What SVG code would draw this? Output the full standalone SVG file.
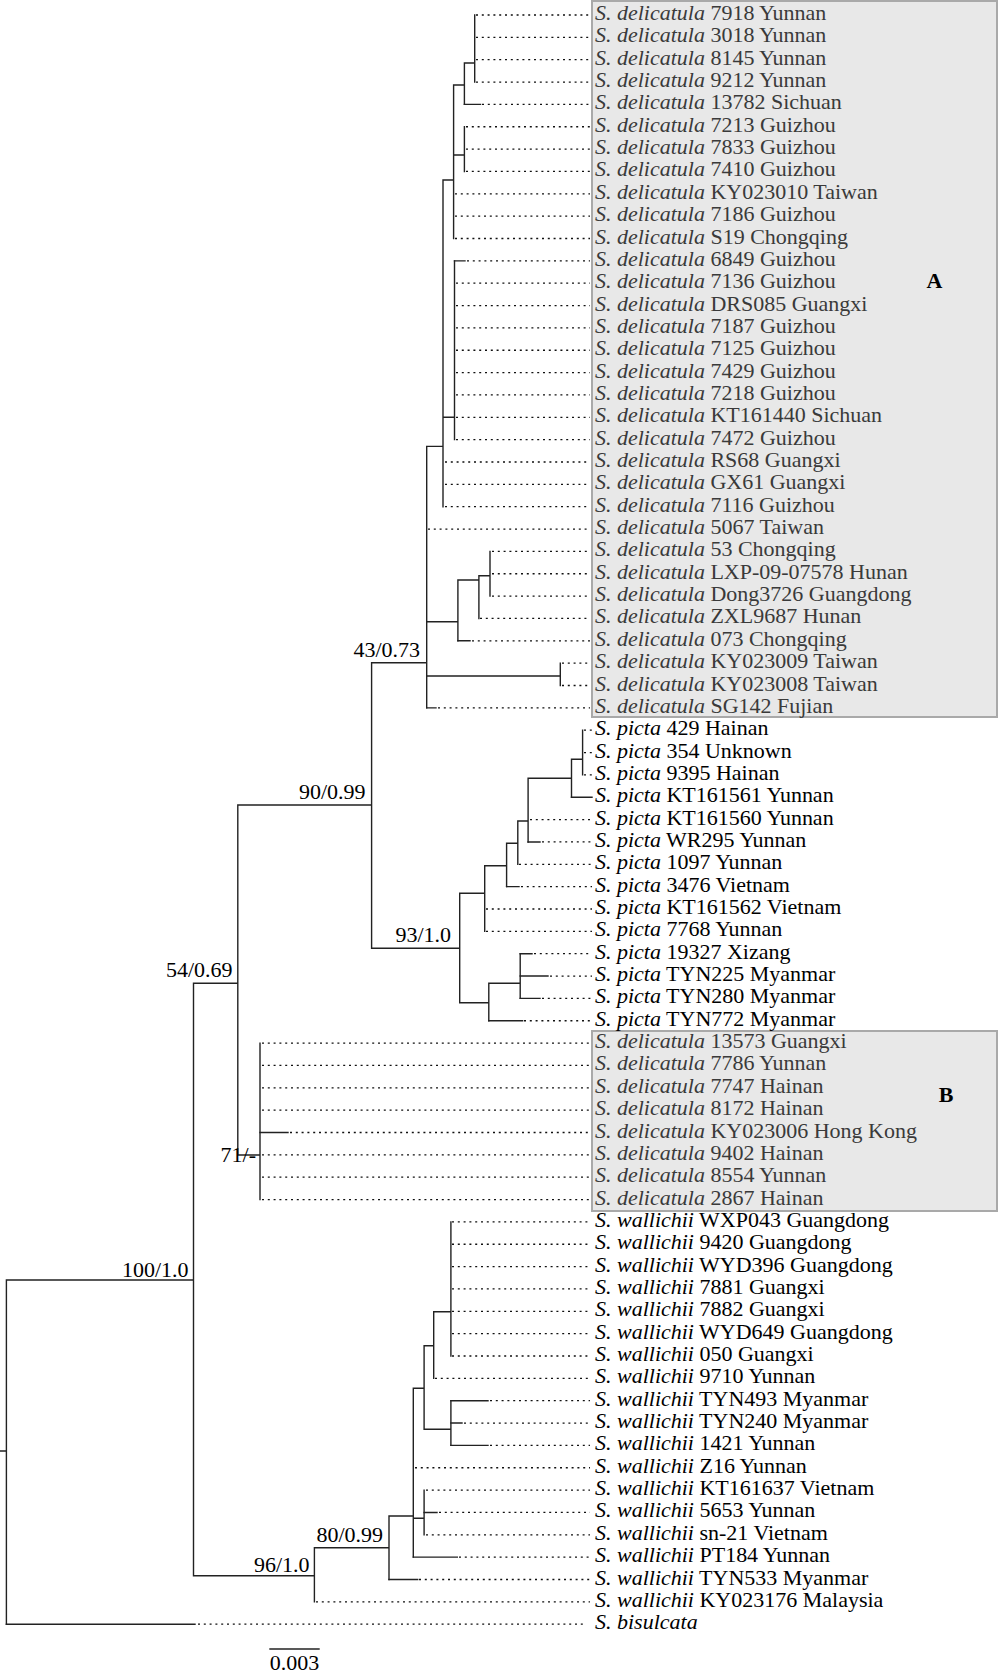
<svg xmlns="http://www.w3.org/2000/svg" width="1000" height="1673" viewBox="0 0 1000 1673">
<style>
.t{font-family:"Liberation Serif","Times New Roman",serif;font-size:20px;fill:#000}
.g{fill:#3a3a3a}
.i{font-style:italic}
.b{font-weight:bold}
.box{fill:#e8e8e8;stroke:#a9a9a9;stroke-width:2}
.br{stroke:#222;stroke-width:1.4;fill:none;stroke-linecap:square}
.dt{stroke:#111;stroke-width:1.3;fill:none;stroke-dasharray:2 3.8}
</style>
<rect width="1000" height="1673" fill="#fff"/>
<g id="boxes">
<rect class="box" x="592" y="1" width="405" height="716"/>
<rect class="box" x="592" y="1031" width="405" height="180"/>
</g>
<g id="connectors">
<path class="br" d="M474.7 15V82.05 M464.4 63H474.7 M464.4 63V104.4 M453.6 85H464.4 M464.4 126.75V171.45 M453.6 155H464.4 M453.6 85V238.5 M443 180H453.6 M443 180V506.7 M443 417.3H454.5 M454.5 260.85V439.65 M426.7 446.4H443 M426.7 446.4V707.85 M426.7 621.7H457.9 M457.9 580V640.8 M457.9 580H478.9 M478.9 575.7V618.45 M478.9 575.7H490 M490 551.4V596.1 M426.7 676H560.3 M560.3 663.15V685.5 M371.6 662.7H426.7 M371.6 662.7V948.3 M371.6 948.3H459.7 M582.6 730.2V774.9 M571.5 759.3H582.6 M571.5 759.3V797.25 M528.1 778.3H571.5 M528.1 778.3V841.95 M517.8 821H528.1 M517.8 821V864.3 M506.6 843.3H517.8 M506.6 843.3V886.65 M484.7 865.7H506.6 M484.7 865.7V931.35 M459.7 893.3H484.7 M459.7 893.3V1002.7 M459.7 1002.7H488.8 M488.8 983.3V1020.75 M488.8 983.3H520.2 M520.2 953.7V998.4 M237.8 805H371.6 M237.8 805V1155 M237.8 1155H260 M260 1043.1V1199.55 M193.5 983.3H237.8 M193.5 983.3V1575.7 M193.5 1575.7H314.4 M6.4 1280H193.5 M6.4 1280V1624.2 M0 1451H6.4 M314.4 1547.7V1601.85 M314.4 1547.7H389 M389 1516V1579.5 M389 1516H413.3 M413.3 1388.3V1557.15 M413.3 1388.3H424.1 M413.3 1518.3H424.1 M424.1 1345.7V1429.3 M424.1 1345.7H433.7 M424.1 1429.3H450.9 M433.7 1311.7V1378.35 M433.7 1311.7H450.9 M450.9 1221.9V1356 M450.9 1400.7V1445.4 M424.1 1490.1V1534.8"/>
<path class="br" d="M464.4 104.4H480.5 M454.5 260.85H465 M457.9 640.8H470 M426.7 707.85H436 M571.5 797.25H592 M528.1 841.95H540 M506.6 886.65H519 M520.2 953.7H532 M520.2 976.05H548 M520.2 998.4H540 M488.8 1020.75H522.6 M260 1132.5H288 M450.9 1400.7H488 M450.9 1423.05H462 M450.9 1445.4H488 M424.1 1512.45H437 M413.3 1557.15H457.3 M389 1579.5H417.7 M6.4 1624.2H195"/>
<path class="dt" d="M476 15H590 M476 37.35H590 M476 59.7H590 M476 82.05H590 M482 104.4H590 M466 126.75H590 M466 149.1H590 M466 171.45H590 M455 193.8H590 M455 216.15H590 M455 238.5H590 M467 260.85H590 M456 283.2H590 M456 305.55H590 M456 327.9H590 M456 350.25H590 M456 372.6H590 M456 394.95H590 M456 417.3H590 M456 439.65H590 M445 462H590 M445 484.35H590 M445 506.7H590 M428 529.05H590 M492 551.4H590 M492 573.75H590 M492 596.1H590 M480 618.45H590 M472 640.8H590 M562 663.15H590 M562 685.5H590 M438 707.85H590 M584 730.2H592 M584 752.55H592 M584 774.9H592 M530 819.6H592 M542 841.95H592 M519 864.3H592 M521 886.65H592 M486 909H592 M486 931.35H592 M534 953.7H592 M550 976.05H592 M542 998.4H592 M524 1020.75H592 M262 1043.1H590 M262 1065.45H590 M262 1087.8H590 M262 1110.15H590 M290 1132.5H590 M262 1154.85H590 M262 1177.2H590 M262 1199.55H590 M452 1221.9H590 M452 1244.25H590 M452 1266.6H590 M452 1288.95H590 M452 1311.3H590 M452 1333.65H590 M452 1356H590 M435 1378.35H590 M490 1400.7H590 M464 1423.05H590 M490 1445.4H590 M415 1467.75H590 M426 1490.1H590 M439 1512.45H590 M426 1534.8H590 M459 1557.15H590 M419 1579.5H590 M316 1601.85H590 M198 1624.2H585"/>
<path class="br" d="M270 1649H319"/>
</g>
<g id="leaves">
<g id="leaf-d7918"><text class="t g" transform="translate(595 20) scale(1.1 1)"><tspan class="i">S. delicatula</tspan> 7918 Yunnan</text></g>
<g id="leaf-d3018"><text class="t g" transform="translate(595 42.35) scale(1.1 1)"><tspan class="i">S. delicatula</tspan> 3018 Yunnan</text></g>
<g id="leaf-d8145"><text class="t g" transform="translate(595 64.7) scale(1.1 1)"><tspan class="i">S. delicatula</tspan> 8145 Yunnan</text></g>
<g id="leaf-d9212"><text class="t g" transform="translate(595 87.05) scale(1.1 1)"><tspan class="i">S. delicatula</tspan> 9212 Yunnan</text></g>
<g id="leaf-d13782"><text class="t g" transform="translate(595 109.4) scale(1.1 1)"><tspan class="i">S. delicatula</tspan> 13782 Sichuan</text></g>
<g id="leaf-d7213"><text class="t g" transform="translate(595 131.75) scale(1.1 1)"><tspan class="i">S. delicatula</tspan> 7213 Guizhou</text></g>
<g id="leaf-d7833"><text class="t g" transform="translate(595 154.1) scale(1.1 1)"><tspan class="i">S. delicatula</tspan> 7833 Guizhou</text></g>
<g id="leaf-d7410"><text class="t g" transform="translate(595 176.45) scale(1.1 1)"><tspan class="i">S. delicatula</tspan> 7410 Guizhou</text></g>
<g id="leaf-dKY023010"><text class="t g" transform="translate(595 198.8) scale(1.1 1)"><tspan class="i">S. delicatula</tspan> KY023010 Taiwan</text></g>
<g id="leaf-d7186"><text class="t g" transform="translate(595 221.15) scale(1.1 1)"><tspan class="i">S. delicatula</tspan> 7186 Guizhou</text></g>
<g id="leaf-dS19"><text class="t g" transform="translate(595 243.5) scale(1.1 1)"><tspan class="i">S. delicatula</tspan> S19 Chongqing</text></g>
<g id="leaf-d6849"><text class="t g" transform="translate(595 265.85) scale(1.1 1)"><tspan class="i">S. delicatula</tspan> 6849 Guizhou</text></g>
<g id="leaf-d7136"><text class="t g" transform="translate(595 288.2) scale(1.1 1)"><tspan class="i">S. delicatula</tspan> 7136 Guizhou</text></g>
<g id="leaf-dDRS085"><text class="t g" transform="translate(595 310.55) scale(1.1 1)"><tspan class="i">S. delicatula</tspan> DRS085 Guangxi</text></g>
<g id="leaf-d7187"><text class="t g" transform="translate(595 332.9) scale(1.1 1)"><tspan class="i">S. delicatula</tspan> 7187 Guizhou</text></g>
<g id="leaf-d7125"><text class="t g" transform="translate(595 355.25) scale(1.1 1)"><tspan class="i">S. delicatula</tspan> 7125 Guizhou</text></g>
<g id="leaf-d7429"><text class="t g" transform="translate(595 377.6) scale(1.1 1)"><tspan class="i">S. delicatula</tspan> 7429 Guizhou</text></g>
<g id="leaf-d7218"><text class="t g" transform="translate(595 399.95) scale(1.1 1)"><tspan class="i">S. delicatula</tspan> 7218 Guizhou</text></g>
<g id="leaf-dKT161440"><text class="t g" transform="translate(595 422.3) scale(1.1 1)"><tspan class="i">S. delicatula</tspan> KT161440 Sichuan</text></g>
<g id="leaf-d7472"><text class="t g" transform="translate(595 444.65) scale(1.1 1)"><tspan class="i">S. delicatula</tspan> 7472 Guizhou</text></g>
<g id="leaf-dRS68"><text class="t g" transform="translate(595 467) scale(1.1 1)"><tspan class="i">S. delicatula</tspan> RS68 Guangxi</text></g>
<g id="leaf-dGX61"><text class="t g" transform="translate(595 489.35) scale(1.1 1)"><tspan class="i">S. delicatula</tspan> GX61 Guangxi</text></g>
<g id="leaf-d7116"><text class="t g" transform="translate(595 511.7) scale(1.1 1)"><tspan class="i">S. delicatula</tspan> 7116 Guizhou</text></g>
<g id="leaf-d5067"><text class="t g" transform="translate(595 534.05) scale(1.1 1)"><tspan class="i">S. delicatula</tspan> 5067 Taiwan</text></g>
<g id="leaf-d53"><text class="t g" transform="translate(595 556.4) scale(1.1 1)"><tspan class="i">S. delicatula</tspan> 53 Chongqing</text></g>
<g id="leaf-dLXP"><text class="t g" transform="translate(595 578.75) scale(1.1 1)"><tspan class="i">S. delicatula</tspan> LXP-09-07578 Hunan</text></g>
<g id="leaf-dDong3726"><text class="t g" transform="translate(595 601.1) scale(1.1 1)"><tspan class="i">S. delicatula</tspan> Dong3726 Guangdong</text></g>
<g id="leaf-dZXL9687"><text class="t g" transform="translate(595 623.45) scale(1.1 1)"><tspan class="i">S. delicatula</tspan> ZXL9687 Hunan</text></g>
<g id="leaf-d073"><text class="t g" transform="translate(595 645.8) scale(1.1 1)"><tspan class="i">S. delicatula</tspan> 073 Chongqing</text></g>
<g id="leaf-dKY023009"><text class="t g" transform="translate(595 668.15) scale(1.1 1)"><tspan class="i">S. delicatula</tspan> KY023009 Taiwan</text></g>
<g id="leaf-dKY023008"><text class="t g" transform="translate(595 690.5) scale(1.1 1)"><tspan class="i">S. delicatula</tspan> KY023008 Taiwan</text></g>
<g id="leaf-dSG142"><text class="t g" transform="translate(595 712.85) scale(1.1 1)"><tspan class="i">S. delicatula</tspan> SG142 Fujian</text></g>
<g id="leaf-p429"><text class="t" transform="translate(595 735.2) scale(1.1 1)"><tspan class="i">S. picta</tspan> 429 Hainan</text></g>
<g id="leaf-p354"><text class="t" transform="translate(595 757.55) scale(1.1 1)"><tspan class="i">S. picta</tspan> 354 Unknown</text></g>
<g id="leaf-p9395"><text class="t" transform="translate(595 779.9) scale(1.1 1)"><tspan class="i">S. picta</tspan> 9395 Hainan</text></g>
<g id="leaf-pKT161561"><text class="t" transform="translate(595 802.25) scale(1.1 1)"><tspan class="i">S. picta</tspan> KT161561 Yunnan</text></g>
<g id="leaf-pKT161560"><text class="t" transform="translate(595 824.6) scale(1.1 1)"><tspan class="i">S. picta</tspan> KT161560 Yunnan</text></g>
<g id="leaf-pWR295"><text class="t" transform="translate(595 846.95) scale(1.1 1)"><tspan class="i">S. picta</tspan> WR295 Yunnan</text></g>
<g id="leaf-p1097"><text class="t" transform="translate(595 869.3) scale(1.1 1)"><tspan class="i">S. picta</tspan> 1097 Yunnan</text></g>
<g id="leaf-p3476"><text class="t" transform="translate(595 891.65) scale(1.1 1)"><tspan class="i">S. picta</tspan> 3476 Vietnam</text></g>
<g id="leaf-pKT161562"><text class="t" transform="translate(595 914) scale(1.1 1)"><tspan class="i">S. picta</tspan> KT161562 Vietnam</text></g>
<g id="leaf-p7768"><text class="t" transform="translate(595 936.35) scale(1.1 1)"><tspan class="i">S. picta</tspan> 7768 Yunnan</text></g>
<g id="leaf-p19327"><text class="t" transform="translate(595 958.7) scale(1.1 1)"><tspan class="i">S. picta</tspan> 19327 Xizang</text></g>
<g id="leaf-pTYN225"><text class="t" transform="translate(595 981.05) scale(1.1 1)"><tspan class="i">S. picta</tspan> TYN225 Myanmar</text></g>
<g id="leaf-pTYN280"><text class="t" transform="translate(595 1003.4) scale(1.1 1)"><tspan class="i">S. picta</tspan> TYN280 Myanmar</text></g>
<g id="leaf-pTYN772"><text class="t" transform="translate(595 1025.75) scale(1.1 1)"><tspan class="i">S. picta</tspan> TYN772 Myanmar</text></g>
<g id="leaf-d13573"><text class="t g" transform="translate(595 1048.1) scale(1.1 1)"><tspan class="i">S. delicatula</tspan> 13573 Guangxi</text></g>
<g id="leaf-d7786"><text class="t g" transform="translate(595 1070.45) scale(1.1 1)"><tspan class="i">S. delicatula</tspan> 7786 Yunnan</text></g>
<g id="leaf-d7747"><text class="t g" transform="translate(595 1092.8) scale(1.1 1)"><tspan class="i">S. delicatula</tspan> 7747 Hainan</text></g>
<g id="leaf-d8172"><text class="t g" transform="translate(595 1115.15) scale(1.1 1)"><tspan class="i">S. delicatula</tspan> 8172 Hainan</text></g>
<g id="leaf-dKY023006"><text class="t g" transform="translate(595 1137.5) scale(1.1 1)"><tspan class="i">S. delicatula</tspan> KY023006 Hong Kong</text></g>
<g id="leaf-d9402"><text class="t g" transform="translate(595 1159.85) scale(1.1 1)"><tspan class="i">S. delicatula</tspan> 9402 Hainan</text></g>
<g id="leaf-d8554"><text class="t g" transform="translate(595 1182.2) scale(1.1 1)"><tspan class="i">S. delicatula</tspan> 8554 Yunnan</text></g>
<g id="leaf-d2867"><text class="t g" transform="translate(595 1204.55) scale(1.1 1)"><tspan class="i">S. delicatula</tspan> 2867 Hainan</text></g>
<g id="leaf-wWXP043"><text class="t" transform="translate(595 1226.9) scale(1.1 1)"><tspan class="i">S. wallichii</tspan> WXP043 Guangdong</text></g>
<g id="leaf-w9420"><text class="t" transform="translate(595 1249.25) scale(1.1 1)"><tspan class="i">S. wallichii</tspan> 9420 Guangdong</text></g>
<g id="leaf-wWYD396"><text class="t" transform="translate(595 1271.6) scale(1.1 1)"><tspan class="i">S. wallichii</tspan> WYD396 Guangdong</text></g>
<g id="leaf-w7881"><text class="t" transform="translate(595 1293.95) scale(1.1 1)"><tspan class="i">S. wallichii</tspan> 7881 Guangxi</text></g>
<g id="leaf-w7882"><text class="t" transform="translate(595 1316.3) scale(1.1 1)"><tspan class="i">S. wallichii</tspan> 7882 Guangxi</text></g>
<g id="leaf-wWYD649"><text class="t" transform="translate(595 1338.65) scale(1.1 1)"><tspan class="i">S. wallichii</tspan> WYD649 Guangdong</text></g>
<g id="leaf-w050"><text class="t" transform="translate(595 1361) scale(1.1 1)"><tspan class="i">S. wallichii</tspan> 050 Guangxi</text></g>
<g id="leaf-w9710"><text class="t" transform="translate(595 1383.35) scale(1.1 1)"><tspan class="i">S. wallichii</tspan> 9710 Yunnan</text></g>
<g id="leaf-wTYN493"><text class="t" transform="translate(595 1405.7) scale(1.1 1)"><tspan class="i">S. wallichii</tspan> TYN493 Myanmar</text></g>
<g id="leaf-wTYN240"><text class="t" transform="translate(595 1428.05) scale(1.1 1)"><tspan class="i">S. wallichii</tspan> TYN240 Myanmar</text></g>
<g id="leaf-w1421"><text class="t" transform="translate(595 1450.4) scale(1.1 1)"><tspan class="i">S. wallichii</tspan> 1421 Yunnan</text></g>
<g id="leaf-wZ16"><text class="t" transform="translate(595 1472.75) scale(1.1 1)"><tspan class="i">S. wallichii</tspan> Z16 Yunnan</text></g>
<g id="leaf-wKT161637"><text class="t" transform="translate(595 1495.1) scale(1.1 1)"><tspan class="i">S. wallichii</tspan> KT161637 Vietnam</text></g>
<g id="leaf-w5653"><text class="t" transform="translate(595 1517.45) scale(1.1 1)"><tspan class="i">S. wallichii</tspan> 5653 Yunnan</text></g>
<g id="leaf-wsn21"><text class="t" transform="translate(595 1539.8) scale(1.1 1)"><tspan class="i">S. wallichii</tspan> sn-21 Vietnam</text></g>
<g id="leaf-wPT184"><text class="t" transform="translate(595 1562.15) scale(1.1 1)"><tspan class="i">S. wallichii</tspan> PT184 Yunnan</text></g>
<g id="leaf-wTYN533"><text class="t" transform="translate(595 1584.5) scale(1.1 1)"><tspan class="i">S. wallichii</tspan> TYN533 Myanmar</text></g>
<g id="leaf-wKY023176"><text class="t" transform="translate(595 1606.85) scale(1.1 1)"><tspan class="i">S. wallichii</tspan> KY023176 Malaysia</text></g>
<g id="leaf-bisulcata"><text class="t i" transform="translate(595 1629.2) scale(1.1 1)">S. bisulcata</text></g>
</g>
<g id="clade-labels">
<g id="clade-A"><text class="t b" text-anchor="middle" transform="translate(934.5 288) scale(1.1 1)">A</text></g>
<g id="clade-B"><text class="t b" text-anchor="middle" transform="translate(946 1101.5) scale(1.1 1)">B</text></g>
</g>
<g id="supports">
<g id="node-43"><text class="t" text-anchor="end" transform="translate(420 657) scale(1.1 1)">43/0.73</text></g>
<g id="node-90"><text class="t" text-anchor="end" transform="translate(365.5 799) scale(1.1 1)">90/0.99</text></g>
<g id="node-93"><text class="t" text-anchor="end" transform="translate(451 941.5) scale(1.1 1)">93/1.0</text></g>
<g id="node-54"><text class="t" text-anchor="end" transform="translate(232.5 977) scale(1.1 1)">54/0.69</text></g>
<g id="node-71"><text class="t" text-anchor="end" transform="translate(256 1161.5) scale(1.1 1)">71/-</text></g>
<g id="node-100"><text class="t" text-anchor="end" transform="translate(188.5 1277) scale(1.1 1)">100/1.0</text></g>
<g id="node-80"><text class="t" text-anchor="end" transform="translate(383 1541.5) scale(1.1 1)">80/0.99</text></g>
<g id="node-96"><text class="t" text-anchor="end" transform="translate(309.5 1571.5) scale(1.1 1)">96/1.0</text></g>
</g>
<g id="scale-bar">
<text class="t" text-anchor="middle" transform="translate(294.5 1670) scale(1.1 1)">0.003</text>
</g>
</svg>
